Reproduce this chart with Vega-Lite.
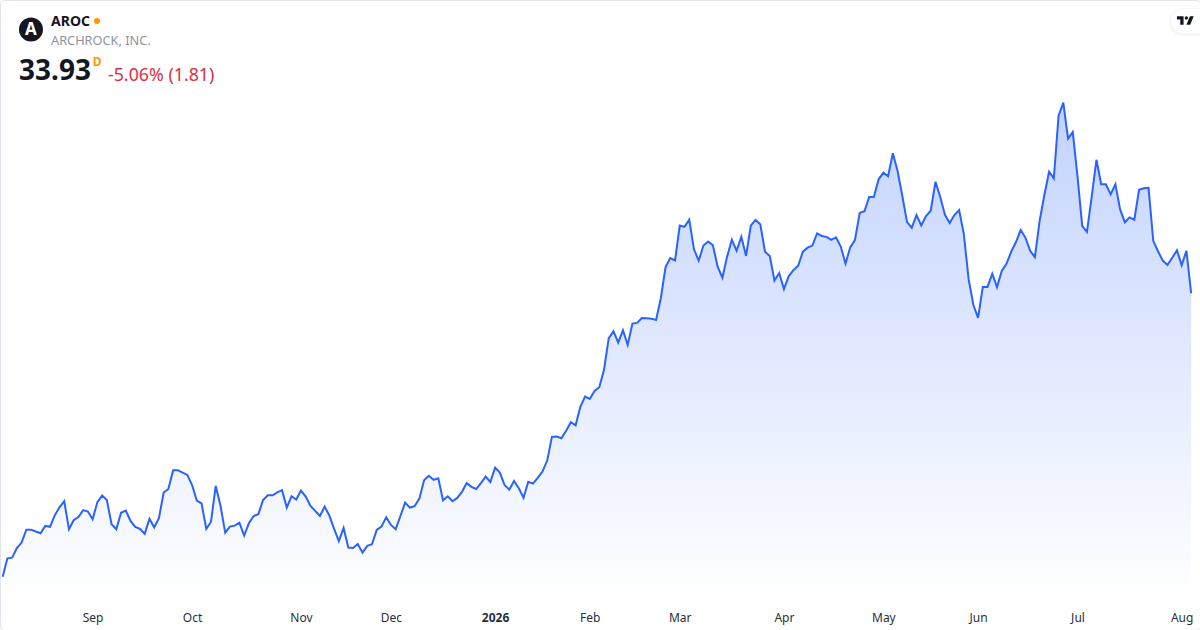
{
  "$schema": "https://vega.github.io/schema/vega-lite/v6.json",
  "width": 1200,
  "height": 630,
  "padding": 0,
  "autosize": {"type": "none"},
  "background": "white",
  "view": {"stroke": "#e0e3eb", "cornerRadius": 4},
  "config": {"text": {"font": "Noto Sans"}},
  "data": {"values": [
    {"session":0,"close":21.87},{"session":1,"close":22.65},{"session":2,"close":22.68},{"session":3,"close":23.09},{"session":4,"close":23.32},{"session":5,"close":23.87},{"session":6,"close":23.87},{"session":7,"close":23.79},{"session":8,"close":23.72},{"session":9,"close":24.03},
    {"session":10,"close":23.99},{"session":11,"close":24.48},{"session":12,"close":24.82},{"session":13,"close":25.08},{"session":14,"close":23.89},{"session":15,"close":24.27},{"session":16,"close":24.41},{"session":17,"close":24.70},{"session":18,"close":24.64},{"session":19,"close":24.31},
    {"session":20,"close":25.04},{"session":21,"close":25.32},{"session":22,"close":25.13},{"session":23,"close":24.10},{"session":24,"close":23.89},{"session":25,"close":24.59},{"session":26,"close":24.68},{"session":27,"close":24.24},{"session":28,"close":23.99},{"session":29,"close":23.90},
    {"session":30,"close":23.69},{"session":31,"close":24.33},{"session":32,"close":23.97},{"session":33,"close":24.36},{"session":34,"close":25.45},{"session":35,"close":25.60},{"session":36,"close":26.40},{"session":37,"close":26.40},{"session":38,"close":26.30},{"session":39,"close":26.20},
    {"session":40,"close":25.77},{"session":41,"close":25.11},{"session":42,"close":24.99},{"session":43,"close":23.90},{"session":44,"close":24.21},{"session":45,"close":25.73},{"session":46,"close":24.89},{"session":47,"close":23.74},{"session":48,"close":24.00},{"session":49,"close":24.04},
    {"session":50,"close":24.16},{"session":51,"close":23.62},{"session":52,"close":24.14},{"session":53,"close":24.45},{"session":54,"close":24.53},{"session":55,"close":25.13},{"session":56,"close":25.33},{"session":57,"close":25.33},{"session":58,"close":25.46},{"session":59,"close":25.55},
    {"session":60,"close":24.81},{"session":61,"close":25.29},{"session":62,"close":25.15},{"session":63,"close":25.53},{"session":64,"close":25.28},{"session":65,"close":24.88},{"session":66,"close":24.67},{"session":67,"close":24.45},{"session":68,"close":24.85},{"session":69,"close":24.47},
    {"session":70,"close":23.90},{"session":71,"close":23.38},{"session":72,"close":23.94},{"session":73,"close":23.11},{"session":74,"close":23.09},{"session":75,"close":23.26},{"session":76,"close":22.89},{"session":77,"close":23.18},{"session":78,"close":23.25},{"session":79,"close":23.86},
    {"session":80,"close":24.00},{"session":81,"close":24.40},{"session":82,"close":24.07},{"session":83,"close":23.89},{"session":84,"close":24.45},{"session":85,"close":25.02},{"session":86,"close":24.81},{"session":87,"close":24.87},{"session":88,"close":25.19},{"session":89,"close":25.97},
    {"session":90,"close":26.16},{"session":91,"close":25.99},{"session":92,"close":26.06},{"session":93,"close":25.12},{"session":94,"close":25.29},{"session":95,"close":25.08},{"session":96,"close":25.22},{"session":97,"close":25.48},{"session":98,"close":25.85},{"session":99,"close":25.69},
    {"session":100,"close":25.60},{"session":101,"close":25.85},{"session":102,"close":26.13},{"session":103,"close":25.90},{"session":104,"close":26.51},{"session":105,"close":26.30},{"session":106,"close":25.77},{"session":107,"close":25.57},{"session":108,"close":25.94},{"session":109,"close":25.63},
    {"session":110,"close":25.23},{"session":111,"close":25.91},{"session":112,"close":25.83},{"session":113,"close":26.07},{"session":114,"close":26.34},{"session":115,"close":26.81},{"session":116,"close":27.82},{"session":117,"close":27.83},{"session":118,"close":27.76},{"session":119,"close":28.08},
    {"session":120,"close":28.44},{"session":121,"close":28.31},{"session":122,"close":29.10},{"session":123,"close":29.53},{"session":124,"close":29.43},{"session":125,"close":29.77},{"session":126,"close":29.93},{"session":127,"close":30.67},{"session":128,"close":32.02},{"session":129,"close":32.31},
    {"session":130,"close":31.83},{"session":131,"close":32.36},{"session":132,"close":31.73},{"session":133,"close":32.64},{"session":134,"close":32.67},{"session":135,"close":32.88},{"session":136,"close":32.87},{"session":137,"close":32.85},{"session":138,"close":32.79},{"session":139,"close":33.72},
    {"session":140,"close":35.04},{"session":141,"close":35.43},{"session":142,"close":35.33},{"session":143,"close":36.81},{"session":144,"close":36.76},{"session":145,"close":37.06},{"session":146,"close":35.80},{"session":147,"close":35.32},{"session":148,"close":35.96},{"session":149,"close":36.13},
    {"session":150,"close":35.97},{"session":151,"close":35.06},{"session":152,"close":34.59},{"session":153,"close":35.49},{"session":154,"close":36.21},{"session":155,"close":35.74},{"session":156,"close":36.33},{"session":157,"close":35.52},{"session":158,"close":36.81},{"session":159,"close":37.05},
    {"session":160,"close":36.87},{"session":161,"close":35.70},{"session":162,"close":35.52},{"session":163,"close":34.47},{"session":164,"close":34.79},{"session":165,"close":34.11},{"session":166,"close":34.65},{"session":167,"close":34.91},{"session":168,"close":35.10},{"session":169,"close":35.70},
    {"session":170,"close":35.87},{"session":171,"close":35.96},{"session":172,"close":36.48},{"session":173,"close":36.37},{"session":174,"close":36.33},{"session":175,"close":36.20},{"session":176,"close":36.31},{"session":177,"close":35.92},{"session":178,"close":35.19},{"session":179,"close":35.88},
    {"session":180,"close":36.20},{"session":181,"close":37.35},{"session":182,"close":37.42},{"session":183,"close":38.03},{"session":184,"close":38.04},{"session":185,"close":38.78},{"session":186,"close":39.06},{"session":187,"close":38.91},{"session":188,"close":39.89},{"session":189,"close":39.13},
    {"session":190,"close":38.07},{"session":191,"close":36.96},{"session":192,"close":36.72},{"session":193,"close":37.26},{"session":194,"close":36.82},{"session":195,"close":37.22},{"session":196,"close":37.44},{"session":197,"close":38.67},{"session":198,"close":38.04},{"session":199,"close":37.27},
    {"session":200,"close":36.92},{"session":201,"close":37.26},{"session":202,"close":37.47},{"session":203,"close":36.44},{"session":204,"close":34.53},{"session":205,"close":33.44},{"session":206,"close":32.88},{"session":207,"close":34.20},{"session":208,"close":34.20},{"session":209,"close":34.76},
    {"session":210,"close":34.19},{"session":211,"close":34.88},{"session":212,"close":35.18},{"session":213,"close":35.70},{"session":214,"close":36.11},{"session":215,"close":36.62},{"session":216,"close":36.30},{"session":217,"close":35.74},{"session":218,"close":35.47},{"session":219,"close":37.01},
    {"session":220,"close":38.11},{"session":221,"close":39.10},{"session":222,"close":38.82},{"session":223,"close":41.49},{"session":224,"close":42.04},{"session":225,"close":40.51},{"session":226,"close":40.79},{"session":227,"close":38.89},{"session":228,"close":36.79},{"session":229,"close":36.54},
    {"session":230,"close":38.04},{"session":231,"close":39.61},{"session":232,"close":38.57},{"session":233,"close":38.57},{"session":234,"close":38.14},{"session":235,"close":38.57},{"session":236,"close":37.50},{"session":237,"close":36.95},{"session":238,"close":37.16},{"session":239,"close":37.06},
    {"session":240,"close":38.33},{"session":241,"close":38.40},{"session":242,"close":38.42},{"session":243,"close":36.16},{"session":244,"close":35.72},{"session":245,"close":35.32},{"session":246,"close":35.13},{"session":247,"close":35.44},{"session":248,"close":35.76},{"session":249,"close":35.12},
    {"session":250,"close":35.74},{"session":251,"close":33.93}
  ]},
  "layer": [
    {
      "mark": {
        "type": "area",
        "line": false,
        "color": {
          "gradient": "linear",
          "x1": 0, "y1": 0, "x2": 0, "y2": 1,
          "stops": [
            {"offset": 0, "color": "#c3d3ff"},
            {"offset": 1, "color": "#ffffff"}
          ]
        }
      },
      "encoding": {
        "x": {
          "field": "session",
          "type": "quantitative",
          "scale": {"domain": [-0.564, 252.87], "nice": false, "zero": false},
          "axis": {
            "title": null,
            "domain": false,
            "ticks": false,
            "grid": false,
            "offset": -18,
            "labelPadding": 0,
            "labelFont": "Noto Sans",
            "labelFontSize": 12,
            "labelColor": "#2a2e39",
            "labelOverlap": false,
            "labelBound": false,
            "labelFlush": false,
            "labelFontWeight": {"condition": {"test": "datum.value == 104", "value": "bold"}, "value": "normal"},
            "values": [19, 40, 63, 82, 104, 124, 143, 165, 186, 206, 227, 249],
            "labelExpr": "{'19':'Sep','40':'Oct','63':'Nov','82':'Dec','104':'2026','124':'Feb','143':'Mar','165':'Apr','186':'May','206':'Jun','227':'Jul','249':'Aug'}[datum.value]"
          }
        },
        "y": {
          "field": "close",
          "type": "quantitative",
          "scale": {"domain": [19.6, 46.41], "nice": false, "zero": false},
          "axis": null
        },
        "y2": {"datum": 20.88}
      }
    },
    {
      "mark": {"type": "line", "color": "#2962ff", "strokeWidth": 2, "interpolate": "linear"},
      "encoding": {
        "x": {"field": "session", "type": "quantitative"},
        "y": {"field": "close", "type": "quantitative"}
      }
    },
    {
      "data": {"values": [{"item": "logo backing"}]},
      "mark": {"type": "point", "filled": false, "stroke": "#131722", "strokeOpacity": 0.05, "strokeWidth": 4, "size": 1296, "shape": "M1 -0.667 H-0.333 A0.667 0.667 0 0 0 -0.333 0.667 H1 Z"},
      "encoding": {"x": {"datum": 250.54}, "y": {"datum": 45.47}}
    },
    {
      "data": {"values": [{"item": "logo backing"}]},
      "mark": {"type": "point", "filled": true, "fill": "#ffffff", "opacity": 1, "size": 1296, "shape": "M1 -0.667 H-0.333 A0.667 0.667 0 0 0 -0.333 0.667 H1 Z"},
      "encoding": {"x": {"datum": 250.54}, "y": {"datum": 45.52}}
    },
    {
      "data": {"values": [{"item": "logo"}]},
      "mark": {"type": "point", "filled": true, "fill": "#131722", "opacity": 1, "size": 289, "shape": "M-1 -0.5 H-0.222 V0.5 H-0.611 V-0.111 H-1 Z M0.528 -0.5 H0.972 L0.556 0.5 H0.111 Z M0.3 -0.3 A0.19 0.19 0 1 1 -0.08 -0.3 A0.19 0.19 0 1 1 0.3 -0.3 Z"},
      "encoding": {"x": {"datum": 249.8}, "y": {"datum": 45.54}}
    },
    {
      "data": {"values": [{"item": "icon"}]},
      "mark": {"type": "point", "filled": true, "shape": "circle", "fill": "#131722", "opacity": 1, "size": 576},
      "encoding": {"x": {"datum": 5.98}, "y": {"datum": 45.15}}
    },
    {
      "data": {"values": [{"label": "A"}]},
      "mark": {"type": "text", "color": "#ffffff", "fontSize": 17, "fontWeight": "bold", "align": "center", "baseline": "middle"},
      "encoding": {"x": {"datum": 5.98}, "y": {"datum": 45.15}, "text": {"field": "label"}}
    },
    {
      "data": {"values": [{"label": "AROC"}]},
      "mark": {"type": "text", "color": "#131722", "fontSize": 14, "fontWeight": "bold", "align": "left", "baseline": "alphabetic"},
      "encoding": {"x": {"datum": 10.21}, "y": {"datum": 45.32}, "text": {"field": "label"}}
    },
    {
      "data": {"values": [{"item": "market dot"}]},
      "mark": {"type": "point", "filled": true, "shape": "circle", "fill": "#ff9800", "opacity": 1, "size": 36},
      "encoding": {"x": {"datum": 19.92}, "y": {"datum": 45.52}}
    },
    {
      "data": {"values": [{"label": "ARCHROCK, INC."}]},
      "mark": {"type": "text", "color": "#90939c", "fontSize": 12.75, "align": "left", "baseline": "alphabetic"},
      "encoding": {"x": {"datum": 10.21}, "y": {"datum": 44.5}, "text": {"field": "label"}}
    },
    {
      "data": {"values": [{"label": "33.93"}]},
      "mark": {"type": "text", "color": "#131722", "fontSize": 28, "fontWeight": "bold", "align": "left", "baseline": "alphabetic"},
      "encoding": {"x": {"datum": 3.45}, "y": {"datum": 42.99}, "text": {"field": "label"}}
    },
    {
      "data": {"values": [{"label": "D"}]},
      "mark": {"type": "text", "color": "#ff9800", "fontSize": 12, "fontWeight": "bold", "align": "left", "baseline": "alphabetic"},
      "encoding": {"x": {"datum": 19.02}, "y": {"datum": 43.62}, "text": {"field": "label"}}
    },
    {
      "data": {"values": [{"label": "-5.06% (1.81)"}]},
      "mark": {"type": "text", "color": "#dc2f42", "fontSize": 17.8, "align": "left", "baseline": "alphabetic"},
      "encoding": {"x": {"datum": 22.24}, "y": {"datum": 42.96}, "text": {"field": "label"}}
    }
  ]
}
